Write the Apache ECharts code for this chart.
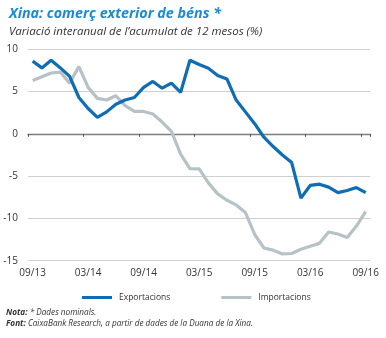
<!DOCTYPE html>
<html>
<head>
<meta charset="utf-8">
<script src="https://cdn.jsdelivr.net/npm/echarts@6/dist/echarts.min.js"></script>
<style>
  html, body { margin: 0; padding: 0; background: #fff; }
  #chart { width: 386px; height: 338px; }
</style>
</head>
<body>
<div id="chart"></div>
<script>
// Monthly categories, 09/13 – 09/16
const months = [
  '09/13','10/13','11/13','12/13','01/14','02/14','03/14','04/14','05/14','06/14','07/14','08/14',
  '09/14','10/14','11/14','12/14','01/15','02/15','03/15','04/15','05/15','06/15','07/15','08/15',
  '09/15','10/15','11/15','12/15','01/16','02/16','03/16','04/16','05/16','06/16','07/16','08/16',
  '09/16'
];

// Year-on-year change of the 12-month cumulative total (%)
const exportacions = [
  8.6, 7.8, 8.7, 7.8, 6.8, 4.3, 3.0, 1.95, 2.6, 3.5, 4.0, 4.3,
  5.5, 6.2, 5.4, 6.0, 4.9, 8.7, 8.2, 7.75, 6.9, 6.5, 4.0, 2.6,
  1.2, -0.4, -1.5, -2.5, -3.4, -7.6, -6.1, -5.95, -6.3, -6.95, -6.7, -6.35,
  -6.95
];
const importacions = [
  6.3, 6.75, 7.2, 7.3, 6.0, 7.95, 5.5, 4.2, 4.0, 4.5, 3.35, 2.65,
  2.65, 2.35, 1.4, 0.3, -2.4, -4.1, -4.15, -5.8, -7.1, -7.85, -8.4, -9.3,
  -11.9, -13.5, -13.75, -14.2, -14.15, -13.65, -13.3, -12.95, -11.6, -11.85, -12.25, -10.9,
  -9.2
];

const yTicks = { min: -15, max: 10, step: 5 };

const BLUE = '#0f6db5';
const GREY = '#b7c2c6';
const TEXT = '#333333';
const FONT = '"Open Sans", "Noto Sans", sans-serif';

const chart = echarts.init(document.getElementById('chart'), null, { renderer: 'canvas' });

chart.setOption({
  animation: false,
  backgroundColor: '#ffffff',
  title: {
    text: 'Xina: comerç exterior de béns *',
    subtext: 'Variació interanual de l’acumulat de 12 mesos (%)',
    left: 4,
    top: 2,
    itemGap: 5,
    textStyle: {
      color: '#1a8bd3',
      fontFamily: FONT,
      fontStyle: 'italic',
      fontWeight: 'bold',
      fontSize: 14.3
    },
    subtextStyle: {
      color: TEXT,
      fontFamily: FONT,
      fontStyle: 'italic',
      fontSize: 11.5
    }
  },
  legend: {
    left: 77,
    top: 288,
    itemGap: 51,
    itemWidth: 30,
    itemHeight: 3,
    icon: 'rect',
    textStyle: { color: TEXT, fontFamily: FONT, fontSize: 8.5, padding: [0, 0, 0, 2] },
    data: ['Exportacions', 'Importacions']
  },
  grid: {
    left: 28,
    right: 15.7,
    top: 49.3,
    bottom: 77.3,
    containLabel: false
  },
  xAxis: [
    {
      // line at zero with month ticks
      type: 'category',
      data: months,
      boundaryGap: true,
      axisLine: { onZero: true, lineStyle: { color: '#7d7d7d', width: 1.3 } },
      axisTick: { show: true, interval: 5, length: 3, lineStyle: { color: '#555', width: 1 } },
      axisLabel: { show: false },
      splitLine: { show: false }
    },
    {
      // tick labels along the bottom
      type: 'category',
      data: months,
      position: 'bottom',
      boundaryGap: true,
      axisLine: { show: false, onZero: false },
      axisTick: { show: false },
      axisLabel: {
        interval: 5,
        margin: 7,
        color: TEXT,
        fontFamily: FONT,
        fontSize: 10
      },
      splitLine: { show: false }
    }
  ],
  yAxis: {
    type: 'value',
    min: yTicks.min,
    max: yTicks.max,
    interval: yTicks.step,
    axisLine: { show: false },
    axisTick: { show: false },
    axisLabel: { color: TEXT, fontFamily: FONT, fontSize: 10, margin: 10 },
    splitLine: { lineStyle: { color: '#cfcfcf', width: 1 } }
  },
  series: [
    {
      name: 'Importacions',
      type: 'line',
      data: importacions,
      symbol: 'none',
      z: 2,
      lineStyle: { color: GREY, width: 3.2 },
      itemStyle: { color: GREY }
    },
    {
      name: 'Exportacions',
      type: 'line',
      data: exportacions,
      symbol: 'none',
      z: 3,
      lineStyle: { color: BLUE, width: 3.2 },
      itemStyle: { color: BLUE }
    }
  ],
  graphic: [
    {
      type: 'text',
      left: 6,
      top: 309,
      style: {
        text: '{b|Nota:} * Dades nominals.',
        fill: TEXT,
        font: 'italic 8.2px ' + FONT,
        rich: {
          b: { fontWeight: 'bold', fontStyle: 'italic', fontFamily: FONT, fontSize: 8.2, fill: TEXT }
        }
      }
    },
    {
      type: 'text',
      left: 6,
      top: 320,
      style: {
        text: '{b|Font:} CaixaBank Research, a partir de dades de la Duana de la Xina.',
        fill: TEXT,
        font: 'italic 8.2px ' + FONT,
        rich: {
          b: { fontWeight: 'bold', fontStyle: 'italic', fontFamily: FONT, fontSize: 8.2, fill: TEXT }
        }
      }
    }
  ]
});
</script>
</body>
</html>
